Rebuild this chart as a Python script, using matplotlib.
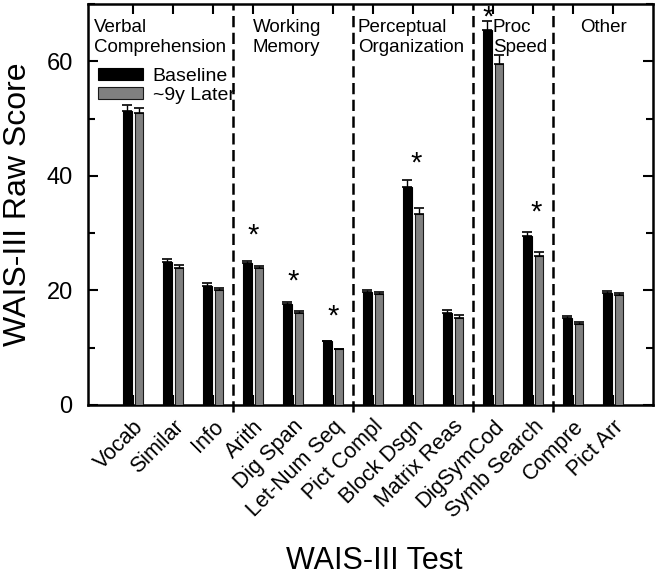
import matplotlib
matplotlib.use("Agg")
import matplotlib.pyplot as plt
import numpy as np
from matplotlib.ticker import MultipleLocator

plt.rcParams['font.family'] = ['Liberation Sans', 'DejaVu Sans']

tests = ["Vocab", "Similar", "Info", "Arith", "Dig Span", "Let-Num Seq", "Pict Compl",
         "Block Dsgn", "Matrix Reas", "DigSymCod", "Symb Search", "Compre", "Pict Arr"]
baseline = [51.4, 24.9, 20.8, 24.7, 17.6, 11.1, 19.8, 38.1, 16.1, 65.5, 29.5, 15.1, 19.6]
baseline_err = [1.0, 0.5, 0.45, 0.45, 0.35, 0.15, 0.35, 1.1, 0.45, 1.5, 0.7, 0.4, 0.35]
later = [50.9, 24.0, 20.0, 23.9, 16.0, 9.7, 19.3, 33.3, 15.2, 59.5, 26.0, 14.1, 19.2]
later_err = [1.0, 0.45, 0.45, 0.45, 0.35, 0.15, 0.35, 1.1, 0.45, 1.6, 0.65, 0.35, 0.3]
signif = [False, False, False, True, True, True, False, True, False, True, True, False, False]
star_y = [0, 0, 0, 29.6, 21.5, 15.5, 0, 42.2, 0, 67.6, 33.6, 0, 0]
groups = ["Verbal\nComprehension", "Working\nMemory", "Perceptual\nOrganization", "Proc\nSpeed", "Other"]
group_x = [-0.97, 3.0, 5.62, 9.0, 11.18]
dividers = [2.5, 5.5, 8.5, 10.5]

fig = plt.figure(figsize=(6.64, 5.75), dpi=100)
ax = fig.add_axes([0.1325, 0.2957, 0.8509, 0.6973])

x = np.arange(len(tests))
w = 0.22
ax.bar(x - 0.14, baseline, w, color='black', edgecolor='black', linewidth=0.8,
       label='Baseline', zorder=3)
ax.bar(x + 0.15, later, w, color='#808080', edgecolor='#1a1a1a', linewidth=0.8,
       label='~9y Later', zorder=3)
ax.errorbar(x - 0.14, baseline, yerr=[np.zeros(len(x)), baseline_err], fmt='none',
            ecolor='black', elinewidth=1.0, capsize=3.3, capthick=1.2, zorder=4)
ax.errorbar(x + 0.15, later, yerr=[np.zeros(len(x)), later_err], fmt='none',
            ecolor='black', elinewidth=1.0, capsize=3.3, capthick=1.2, zorder=4)

for i, s in enumerate(signif):
    if s:
        xo = 0.0
        if tests[i] == "DigSymCod":
            xo = -0.12
        elif tests[i] in ("Block Dsgn", "Symb Search"):
            xo = 0.08
        ax.text(i + xo, star_y[i], '*', ha='center', va='center', fontsize=21, zorder=5)

for d in dividers:
    ax.axvline(d, ymin=-0.018, ymax=1, color='black', linestyle=(0, (4.5, 2.2)),
               linewidth=1.8, clip_on=False, zorder=2)

for gx, g in zip(group_x, groups):
    ax.text(gx, 67.3, g, ha='left', va='top', fontsize=13.5, linespacing=1.2)

ax.set_xlim(-1.125, 13.0)
ax.set_ylim(0, 70)
ax.set_xticks(x)
ax.set_xticklabels(tests, rotation=45, ha='right', rotation_mode='anchor', fontsize=15.5)
ax.yaxis.set_major_locator(MultipleLocator(20))
ax.yaxis.set_minor_locator(MultipleLocator(10))
ax.tick_params(axis='both', which='major', direction='in', length=7, width=1.5,
               top=True, right=True)
ax.tick_params(axis='y', which='major', labelsize=17, pad=11)
ax.tick_params(axis='y', which='minor', direction='in', length=5, width=1.5, right=True)
ax.tick_params(axis='x', which='major', pad=8)
for sp in ax.spines.values():
    sp.set_linewidth(1.8)

ax.set_ylabel('WAIS-III Raw Score', fontsize=23)
ax.yaxis.set_label_coords(-0.098, 0.5)
ax.set_xlabel('WAIS-III Test', fontsize=22)
ax.xaxis.set_label_coords(0.506, -0.352)

leg = ax.legend(loc='upper left', bbox_to_anchor=(-0.006, 0.875), frameon=False, fontsize=14,
                handlelength=2.3, handleheight=0.6, handletextpad=0.5, labelspacing=0.1,
                borderaxespad=0.3)

fig.savefig('out.png', dpi=100)
